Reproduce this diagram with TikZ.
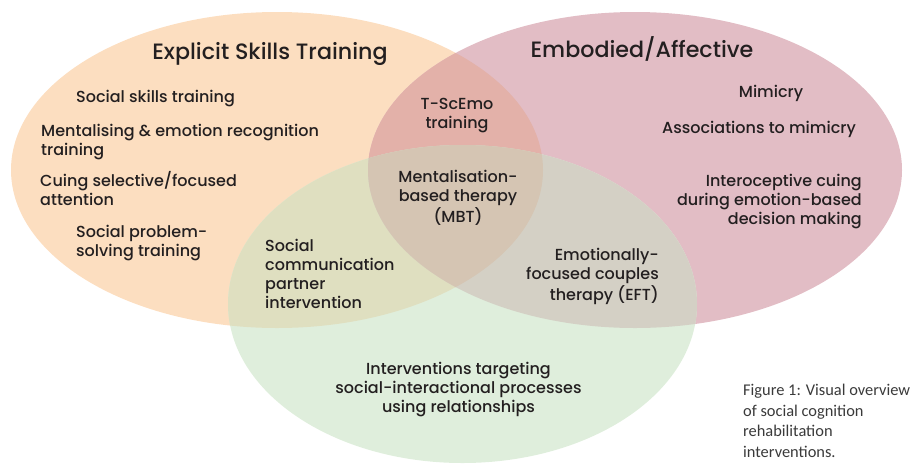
\documentclass[tikz,border=0pt]{standalone}
\usepackage{fontspec}
\newfontfamily\gf{Poppins Medium}
\newfontfamily\capfont{Carlito}
\definecolor{cO}{HTML}{FCDEC0}
\definecolor{cP}{HTML}{E2BDC5}
\definecolor{cG}{HTML}{DFEEDC}
\definecolor{cOP}{HTML}{E3B1A9}
\definecolor{cOG}{HTML}{DFDFC0}
\definecolor{cPG}{HTML}{D4D0C5}
\definecolor{cOPG}{HTML}{D5C5B3}
\definecolor{txt}{HTML}{231F20}
\definecolor{captxt}{HTML}{3A3A3A}
\tikzset{
  lbl/.style={inner sep=0pt, text=txt, font=\gf\fontsize{16}{19}\selectfont},
  ttl/.style={inner sep=0pt, text=txt, font=\gf\fontsize{22.2}{26}\selectfont},
  captionbox/.style={inner sep=0pt, text=captxt, font=\capfont\fontsize{16.4}{20.4}\selectfont, align=left, anchor=base west},
}
\begin{document}
\begin{tikzpicture}[x=1pt,y=-1pt]
\useasboundingbox (0,0) rectangle (913,464);
\def\Oell{(277,170) ellipse [x radius=266pt, y radius=158pt]}
\def\Pell{(635,170) ellipse [x radius=267pt, y radius=158pt]}
\def\Gell{(462.5,304) ellipse [x radius=234.5pt, y radius=159pt]}
\fill[cO] \Oell;
\fill[cP] \Pell;
\fill[cG] \Gell;
\begin{scope}
  \clip \Oell;
  \fill[cOP] \Pell;
  \fill[cOG] \Gell;
\end{scope}
\begin{scope}
  \clip \Pell;
  \fill[cPG] \Gell;
  \clip \Gell;
  \fill[cOPG] \Oell;
\end{scope}
% titles
\node[ttl, anchor=base] (t1) at (270,59) {Explicit Skills Training};
\node[ttl, anchor=base] (t2) at (642,57) {Embodied/Affective};
% explicit skills
\node[lbl, anchor=base west] (a1) at (76,102) {Social skills training};
\node[lbl, anchor=base west, align=left] (a2) at (41,155) {Mentalising \& emotion recognition\\training};
\node[lbl, anchor=base west, align=left] (a3) at (40,205) {Cuing selective/focused\\attention};
\node[lbl, anchor=base west, align=left] (a4) at (76,256) {Social problem-\\solving training};
% overlaps
\node[lbl, anchor=base, align=center] (b1) at (457,128) {T-ScEmo\\training};
\node[lbl, anchor=base, align=center] (b2) at (458,222) {Mentalisation-\\based therapy\\(MBT)};
\node[lbl, anchor=base west, align=left] (b3) at (265,308) {Social\\communication\\partner\\intervention};
\node[lbl, anchor=base east, align=right] (b4) at (659,300) {Emotionally-\\focused couples\\therapy (EFT)};
% embodied
\node[lbl, anchor=base] (c1) at (771,97) {Mimicry};
\node[lbl, anchor=base] (c2) at (759,133) {Associations to mimicry};
\node[lbl, anchor=base east, align=right] (c3) at (862,224) {Interoceptive cuing\\during emotion-based\\decision making};
% relational
\node[lbl, anchor=base, align=center] (d1) at (458.5,412) {Interventions targeting\\social-interactional processes\\using relationships};
% caption
\node[captionbox] (capt) at (743,457) {Figure 1: Visual overview\\of social cognition\\rehabilitation\\interventions.};
\end{tikzpicture}
\end{document}
